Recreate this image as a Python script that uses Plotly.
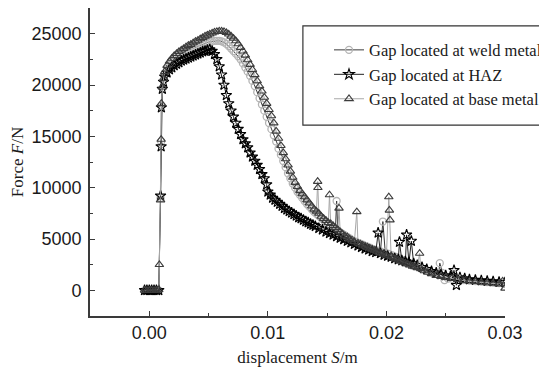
import plotly.graph_objects as go

# ---- Gap located at weld metal (grey circles) ----
weld_s = [-0.0004, -0.0002, 0.0, 0.0002, 0.0004, 0.0006, 0.0008, 0.00095, 0.0010, 0.00102,
          0.0011, 0.0012, 0.0013, 0.0015, 0.0017, 0.0019, 0.0021, 0.0023, 0.0025, 0.0027,
          0.0029, 0.0031, 0.0033, 0.0035, 0.0037, 0.0039, 0.0041, 0.0043, 0.0045, 0.0047,
          0.0049, 0.0051, 0.0053, 0.0055, 0.0057, 0.0059, 0.0061, 0.0063, 0.0065, 0.0067,
          0.0069, 0.0071, 0.0073, 0.0075, 0.0077, 0.0079, 0.0081, 0.0083, 0.0085, 0.0087,
          0.0089, 0.0091, 0.0093, 0.0095, 0.0097, 0.0099, 0.0101, 0.0103, 0.0105, 0.0107,
          0.0109, 0.0111, 0.0113, 0.0115, 0.0117, 0.0119, 0.0121, 0.0123, 0.0125, 0.0127,
          0.0129, 0.0131, 0.0133, 0.0135, 0.0137, 0.0139, 0.0141, 0.0143, 0.0145, 0.0147,
          0.0149, 0.0151, 0.0153, 0.0155, 0.0157, 0.0158, 0.0159, 0.0161, 0.0163, 0.0165,
          0.0167, 0.0169, 0.0171, 0.0174, 0.0177, 0.0180, 0.0183, 0.0186, 0.0189, 0.0192,
          0.0195, 0.0197, 0.0199, 0.0202, 0.0205, 0.0208, 0.0211, 0.0214, 0.0217, 0.0220,
          0.0223, 0.0226, 0.0229, 0.0232, 0.0235, 0.0238, 0.0241, 0.0244, 0.0245, 0.0247,
          0.0249, 0.0252, 0.0256, 0.0260, 0.0265, 0.0270, 0.0275, 0.0280, 0.0285, 0.0290,
          0.0295, 0.0300]
weld_f = [0, 0, 0, 0, 0, 0, 0, 9000, 14500, 18000,
          19700, 20500, 21100, 21600, 22000, 22300, 22550, 22750, 22900, 23050,
          23200, 23300, 23400, 23500, 23600, 23700, 23800, 23900, 24000, 24100,
          24150, 24200, 24250, 24300, 24300, 24300, 24250, 24150, 24000, 23800,
          23550, 23300, 23050, 22800, 22500, 22100, 21700, 21300, 20900, 20400,
          19900, 19300, 18700, 18100, 17500, 16900, 16300, 15700, 15100, 14500,
          13800, 13200, 12600, 12000, 11400, 10900, 10400, 10000, 9600, 9300,
          9000, 8700, 8400, 8150, 7900, 7650, 7450, 7250, 7050, 6850,
          6650, 6450, 6300, 6100, 5950, 8700, 5800, 5650, 5500, 5350,
          5200, 5050, 4900, 4750, 4600, 4450, 4300, 4150, 4000, 3900,
          3800, 6700, 3700, 3550, 3400, 3250, 3100, 2950, 2800, 2650,
          2500, 2350, 2200, 2050, 1900, 1750, 1600, 1500, 2650, 1700,
          1000, 1150, 1100, 1050, 1000, 950, 900, 850, 800, 750,
          700, 650]

# ---- Gap located at HAZ (black stars) ----
haz_s = [-0.0004, -0.0002, 0.0, 0.0002, 0.0004, 0.0006, 0.0008, 0.00095, 0.0010, 0.00102,
         0.0011, 0.0012, 0.0013, 0.0015, 0.0017, 0.0019, 0.0021, 0.0023, 0.0025, 0.0027,
         0.0029, 0.0031, 0.0033, 0.0035, 0.0037, 0.0039, 0.0041, 0.0043, 0.0045, 0.0047,
         0.0049, 0.0051, 0.0053, 0.0055, 0.0057, 0.0059, 0.0061, 0.0063, 0.0065, 0.0067,
         0.0069, 0.0071, 0.0073, 0.0075, 0.0077, 0.0079, 0.0081, 0.0083, 0.0085, 0.0087,
         0.0089, 0.0091, 0.0093, 0.0095, 0.0097, 0.0099, 0.0100, 0.0102, 0.0104, 0.0106,
         0.0108, 0.0110, 0.0112, 0.0114, 0.0116, 0.0118, 0.0120, 0.0122, 0.0124, 0.0126,
         0.0128, 0.0130, 0.0132, 0.0134, 0.0136, 0.0138, 0.0140, 0.0143, 0.0146, 0.0149,
         0.0152, 0.0155, 0.0158, 0.0161, 0.0164, 0.0167, 0.0170, 0.0173, 0.0176, 0.0179,
         0.0182, 0.0185, 0.0188, 0.0191, 0.0193, 0.0195, 0.0198, 0.0201, 0.0204, 0.0207,
         0.0210, 0.0211, 0.0213, 0.0216, 0.0217, 0.0219, 0.0221, 0.0223, 0.0226, 0.0230,
         0.0234, 0.0238, 0.0242, 0.0246, 0.0250, 0.0254, 0.0257, 0.0259, 0.0262, 0.0266,
         0.0270, 0.0275, 0.0280, 0.0285, 0.0290, 0.0295, 0.0300]
haz_f = [0, 0, 0, 0, 0, 0, 0, 9200, 14000, 17800,
         19600, 20300, 20800, 21200, 21500, 21700, 21900, 22050, 22200, 22350,
         22450, 22550, 22650, 22750, 22850, 22950, 23050, 23150, 23250, 23300,
         23400, 23450, 23300, 23000, 22500, 21800, 21000, 20000, 19000, 18200,
         17500, 16900, 16300, 15700, 15200, 14700, 14300, 13900, 13400, 13000,
         12600, 12200, 11800, 11300, 10900, 10300, 9600, 9300, 9000, 8800,
         8600, 8400, 8200, 8000, 7850, 7700, 7550, 7400, 7250, 7100,
         7000, 6850, 6700, 6600, 6450, 6350, 6250, 6050, 5900, 5700,
         5550, 5400, 5250, 5100, 4950, 4800, 4650, 4500, 4350, 4200,
         4050, 3950, 3800, 3700, 5600, 3600, 3450, 3350, 3250, 3100,
         3000, 4700, 2900, 2800, 5400, 2700, 4800, 2600, 2450, 2250,
         2050, 1850, 1700, 1550, 1450, 1350, 1950, 500, 1250, 1150,
         1050, 1000, 950, 900, 850, 800, 750]

# ---- Gap located at base metal (triangles) ----
base_s = [-0.0004, -0.0002, 0.0, 0.0002, 0.0004, 0.0006, 0.0008, 0.00085, 0.00095, 0.0010,
          0.00102, 0.0011, 0.0012, 0.0013, 0.0015, 0.0017, 0.0019, 0.0021, 0.0023, 0.0025,
          0.0027, 0.0029, 0.0031, 0.0033, 0.0035, 0.0037, 0.0039, 0.0041, 0.0043, 0.0045,
          0.0047, 0.0049, 0.0051, 0.0053, 0.0055, 0.0057, 0.0059, 0.0061, 0.0063, 0.0065,
          0.0067, 0.0069, 0.0071, 0.0073, 0.0075, 0.0077, 0.0079, 0.0081, 0.0083, 0.0085,
          0.0087, 0.0089, 0.0091, 0.0093, 0.0095, 0.0097, 0.0099, 0.0101, 0.0103, 0.0105,
          0.0107, 0.0109, 0.0111, 0.0113, 0.0115, 0.0117, 0.0119, 0.0121, 0.0123, 0.0125,
          0.0127, 0.0129, 0.0131, 0.0133, 0.0135, 0.0137, 0.0139, 0.0141, 0.0142, 0.01422,
          0.0143, 0.0145, 0.0147, 0.0149, 0.0151, 0.0152, 0.0153, 0.0155, 0.0157, 0.0159,
          0.0160, 0.0161, 0.0163, 0.0165, 0.0167, 0.0169, 0.0171, 0.0173, 0.0175, 0.0176,
          0.0178, 0.0180, 0.0182, 0.0184, 0.0186, 0.0188, 0.0190, 0.0192, 0.0194, 0.0196,
          0.0198, 0.0200, 0.0202, 0.02025, 0.0203, 0.0204, 0.0206, 0.0208, 0.0210, 0.0212,
          0.0214, 0.0216, 0.0218, 0.0220, 0.0222, 0.0224, 0.0226, 0.0228, 0.0229, 0.0232,
          0.0235, 0.0238, 0.0242, 0.0246, 0.0250, 0.0255, 0.0260, 0.0265, 0.0270, 0.0275,
          0.0280, 0.0285, 0.0290, 0.0295, 0.0298, 0.0300]
base_f = [0, 0, 0, 0, 0, 0, 50, 2500, 8800, 14700,
          18200, 19800, 20600, 21300, 21900, 22300, 22600, 22850, 23050, 23250,
          23400, 23550, 23700, 23850, 23950, 24100, 24250, 24350, 24500, 24600,
          24750, 24850, 24950, 25050, 25150, 25200, 25250, 25250, 25200, 25100,
          24950, 24750, 24550, 24300, 24000, 23650, 23300, 22900, 22450, 22000,
          21500, 21000, 20400, 19900, 19400, 18800, 18200, 17600, 17000, 16300,
          15500, 14800, 14100, 13400, 12800, 12200, 11600, 11000, 10500, 10100,
          9700, 9400, 9100, 8800, 8500, 8200, 7900, 7700, 10600, 10000,
          7500, 7200, 7000, 6800, 6600, 9300, 6500, 6300, 6100, 5900,
          8000, 5700, 5500, 5300, 5200, 5000, 4900, 4750, 7650, 4600,
          4500, 4400, 4300, 4200, 4100, 4000, 3900, 3800, 3700, 3600,
          3500, 3400, 9100, 7800, 6850, 3300, 3150, 3050, 2950, 2850,
          2750, 2650, 2550, 2450, 2350, 2300, 2200, 3600, 2100, 1900,
          1750, 1600, 1450, 1350, 1250, 1150, 1050, 950, 900, 850,
          780, 730, 680, 620, 900, 200]

series_names = ["Gap located at weld metal", "Gap located at HAZ", "Gap located at base metal"]

x_ticks = [0.00, 0.01, 0.02, 0.03]
x_tick_text = ["0.00", "0.01", "0.02", "0.03"]
y_ticks = [0, 5000, 10000, 15000, 20000, 25000]
y_tick_text = ["0", "5000", "10000", "15000", "20000", "25000"]

fig = go.Figure()
fig.add_trace(go.Scatter(
    x=weld_s, y=weld_f, mode="lines+markers", name=series_names[0],
    line=dict(color="#3a3a3a", width=1),
    marker=dict(symbol="circle-open", size=7, color="#b4b4b4", line=dict(width=1.3, color="#b4b4b4"))))
fig.add_trace(go.Scatter(
    x=haz_s, y=haz_f, mode="lines+markers", name=series_names[1],
    line=dict(color="#222222", width=1),
    marker=dict(symbol="star-open", size=8, color="#000000", line=dict(width=1.1, color="#000000"))))
fig.add_trace(go.Scatter(
    x=base_s, y=base_f, mode="lines+markers", name=series_names[2],
    line=dict(color="#a8a8a8", width=1),
    marker=dict(symbol="triangle-up-open", size=7.5, color="#3c3c3c", line=dict(width=1.1, color="#3c3c3c"))))

axis_common = dict(
    showline=True, linecolor="#3a3a3a", linewidth=1.6, mirror=False, automargin=False,
    showgrid=False, zeroline=False, ticks="inside", ticklen=5, tickwidth=1.2,
    tickcolor="#3a3a3a", tickfont=dict(family="Liberation Sans, Arial", size=18, color="#1a1a1a"),
)

fig.update_xaxes(
    range=[-0.005, 0.03], tickvals=x_ticks, ticktext=x_tick_text,
    minor=dict(dtick=0.005, ticks="inside", ticklen=3, tickcolor="#3a3a3a", tickwidth=1),
    title=dict(text="displacement <i>S</i>/m", font=dict(family="Liberation Serif, Times New Roman", size=17, color="#1a1a1a"), standoff=9),
    **axis_common)
fig.update_yaxes(
    range=[-2500, 27500], tickvals=y_ticks, ticktext=y_tick_text, ticklabelstandoff=3,
    minor=dict(dtick=2500, ticks="inside", ticklen=3, tickcolor="#3a3a3a", tickwidth=1),
    title=dict(text="Force <i>F</i>/N", font=dict(family="Liberation Serif, Times New Roman", size=17, color="#1a1a1a"), standoff=12),
    **axis_common)

fig.add_shape(type="rect", xref="paper", yref="paper",
              x0=0.513, x1=1.25, y0=0.62, y1=0.942,
              line=dict(color="#333333", width=1.2), fillcolor="rgba(0,0,0,0)")

# page body has an 8px default margin, so the figure is 8px smaller than the window
fig.update_layout(
    width=539, height=364,
    margin=dict(l=82, r=42, t=0, b=56),
    paper_bgcolor="white", plot_bgcolor="white",
    showlegend=True,
    legend=dict(x=0.576, y=0.92, xanchor="left", yanchor="top",
                bgcolor="rgba(0,0,0,0)", borderwidth=0,
                font=dict(family="Liberation Serif, Times New Roman", size=16.5, color="#1a1a1a"),
                tracegroupgap=0),
)

fig.write_html("out.html")
